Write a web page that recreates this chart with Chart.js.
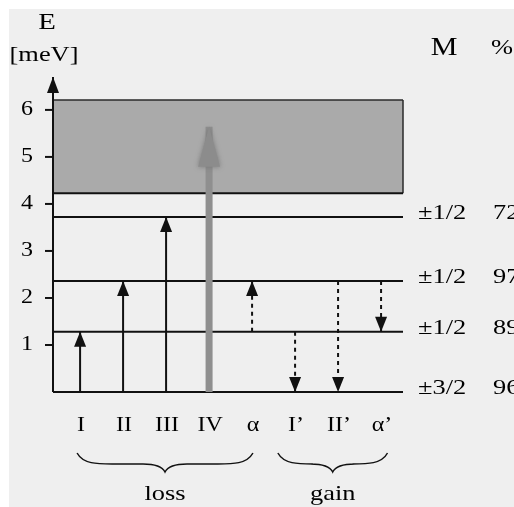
<!DOCTYPE html>
<html lang="en">
  <head>
    <meta charset="UTF-8" />
    <title>Energy levels</title>
    <script src="https://cdn.jsdelivr.net/npm/chart.js"></script>
    <style>
      * {
        margin: 0;
        padding: 0;
        box-sizing: border-box;
      }

      body {
        background-color: #ffffff;
      }

      .chart-container {
        width: 514px;
        height: 507px;
      }
    </style>
  </head>
  <body>
    <div class="chart-container">
      <canvas id="levelChart"></canvas>
    </div>

    <script>
      // transitions, one per category position (1..8)
      const categories = ["I", "II", "III", "IV", "α", "I’", "II’", "α’"];
      const transFrom = [0, 0, 0, 0, 1.28, 1.28, 2.36, 2.36];
      const transTo = [1.28, 2.36, 3.72, 5.64, 2.36, 0, 0, 1.28];
      const transKind = ["solid", "solid", "solid", "broad", "dashed", "dashed", "dashed", "dashed"];

      // levels
      const levelEnergy = [0, 1.28, 2.36, 3.72];
      const levelM = ["±3/2", "±1/2", "±1/2", "±1/2"];
      const levelPct = ["96", "89", "97", "72"];

      // continuum band
      const bandBottom = 4.23;
      const bandTop = 6.21;

      const yTicks = [1, 2, 3, 4, 5, 6];

      // braces under the categories
      const groupNames = ["loss", "gain"];
      const groupFrom = [0.93, 5.6];
      const groupTo = [5.02, 8.15];

      const xMin = 0.37;
      const xMax = 8.51;
      const yMax = 6.7;

      const FONT = "'Liberation Serif', 'Times New Roman', serif";

      function seg(x1, y1, x2, y2) {
        return [
          { x: x1, y: y1 },
          { x: x2, y: y2 },
        ];
      }

      function lineSet(data, extra) {
        return Object.assign(
          {
            data: data,
            showLine: true,
            pointRadius: 0,
            fill: false,
            clip: false,
            borderColor: "#111111",
            borderWidth: 2,
          },
          extra
        );
      }

      var datasets = [];

      // band: top line filled down to bottom line
      datasets.push(
        lineSet(seg(xMin, bandTop, xMax, bandTop), {
          fill: "+1",
          backgroundColor: "#aaaaaa",
          borderColor: "#2a2a2a",
          borderWidth: 1.5,
          order: 20,
        })
      );
      datasets.push(
        lineSet(seg(xMin, bandBottom, xMax, bandBottom), {
          borderWidth: 2,
          order: 19,
        })
      );
      datasets.push(
        lineSet(seg(xMax, bandBottom, xMax, bandTop), {
          borderColor: "#2a2a2a",
          borderWidth: 1.5,
          order: 19,
        })
      );

      levelEnergy.forEach(function (e) {
        datasets.push(lineSet(seg(xMin, e, xMax, e), { order: 10 }));
      });

      // energy axis with arrow
      datasets.push(
        lineSet(seg(xMin, 0, xMin, yMax), {
          arrow: { len: 16, width: 12, color: "#111111" },
          order: 9,
        })
      );

      categories.forEach(function (c, i) {
        var kind = transKind[i];
        var extra = { order: 2 };
        if (kind === "dashed") {
          extra.borderDash = [4, 4];
          extra.arrow = { len: 15, width: 12, color: "#111111" };
        } else if (kind === "broad") {
          extra.borderColor = "#8f8f8f";
          extra.borderWidth = 7;
          extra.order = 1;
          extra.arrow = { len: 40, width: 22, color: "#8c8c8c", soft: true };
        } else {
          extra.arrow = { len: 15, width: 12, color: "#111111" };
        }
        datasets.push(lineSet(seg(i + 1, transFrom[i], i + 1, transTo[i]), extra));
      });

      function stretchText(ctx, text, x, y, size, align) {
        ctx.save();
        ctx.font = size + "px " + FONT;
        ctx.textBaseline = "middle";
        ctx.textAlign = align || "center";
        ctx.translate(x, y);
        ctx.scale(1.2, 1);
        ctx.fillText(text, 0, 0);
        ctx.restore();
      }

      const backgroundPlugin = {
        id: "paper",
        beforeDraw(chart) {
          var ctx = chart.ctx;
          ctx.save();
          ctx.fillStyle = "#ffffff";
          ctx.fillRect(0, 0, chart.width, chart.height);
          ctx.fillStyle = "#efefef";
          ctx.fillRect(9, 9, chart.width - 9, chart.height - 9);
          ctx.restore();
        },
      };

      const arrowPlugin = {
        id: "arrows",
        afterDatasetsDraw(chart) {
          var ctx = chart.ctx;
          chart.data.datasets.forEach(function (ds, i) {
            if (!ds.arrow) return;
            var pts = chart.getDatasetMeta(i).data;
            var p0 = pts[0], p1 = pts[1];
            var dx = p1.x - p0.x, dy = p1.y - p0.y;
            var d = Math.sqrt(dx * dx + dy * dy);
            var ux = dx / d, uy = dy / d;
            var a = ds.arrow;
            ctx.save();
            ctx.fillStyle = a.color;
            if (a.soft) {
              ctx.shadowColor = "rgba(110,110,110,0.8)";
              ctx.shadowBlur = 5;
            }
            ctx.beginPath();
            ctx.moveTo(p1.x, p1.y);
            ctx.lineTo(p1.x - ux * a.len - uy * a.width / 2, p1.y - uy * a.len + ux * a.width / 2);
            ctx.lineTo(p1.x - ux * a.len + uy * a.width / 2, p1.y - uy * a.len - ux * a.width / 2);
            ctx.closePath();
            ctx.fill();
            ctx.restore();
          });
        },
      };

      const labelPlugin = {
        id: "labels",
        afterDraw(chart) {
          var ctx = chart.ctx;
          var xs = chart.scales.x;
          var ys = chart.scales.y;
          var axisX = xs.getPixelForValue(xMin);
          var rightX = xs.getPixelForValue(xMax);
          ctx.save();
          ctx.fillStyle = "#000000";
          ctx.strokeStyle = "#111111";

          // y ticks
          ctx.lineWidth = 2;
          yTicks.forEach(function (t) {
            var py = ys.getPixelForValue(t);
            ctx.beginPath();
            ctx.moveTo(axisX - 8, py);
            ctx.lineTo(axisX, py);
            ctx.stroke();
            stretchText(ctx, String(t), 27, py, 20);
          });

          // axis title
          stretchText(ctx, "E", 47, 23, 24);
          stretchText(ctx, "[meV]", 44, 55, 22);

          // right side labels
          stretchText(ctx, "M", 444, 48, 25);
          stretchText(ctx, "%", 491, 48, 22, "left");
          levelEnergy.forEach(function (e, i) {
            var py = ys.getPixelForValue(e) - 4;
            stretchText(ctx, levelM[i], rightX + 15, py, 22, "left");
            stretchText(ctx, levelPct[i], rightX + 90, py, 22, "left");
          });

          // category labels
          categories.forEach(function (c, i) {
            stretchText(ctx, c, xs.getPixelForValue(i + 1) + 1, 426, 20);
          });

          // braces
          ctx.lineWidth = 1.5;
          groupNames.forEach(function (name, i) {
            var x1 = xs.getPixelForValue(groupFrom[i]);
            var x2 = xs.getPixelForValue(groupTo[i]);
            var cx = (x1 + x2) / 2;
            var y0 = 453, ym = 464, yt = 472;
            ctx.beginPath();
            ctx.moveTo(x1, y0);
            ctx.bezierCurveTo(x1 + 6, ym, x1 + 20, ym, x1 + 35, ym);
            ctx.lineTo(cx - 22, ym);
            ctx.quadraticCurveTo(cx - 4, ym, cx, yt);
            ctx.quadraticCurveTo(cx + 4, ym, cx + 22, ym);
            ctx.lineTo(x2 - 35, ym);
            ctx.bezierCurveTo(x2 - 20, ym, x2 - 6, ym, x2, y0);
            ctx.stroke();
            stretchText(ctx, name, cx, 494, 22);
          });
          ctx.restore();
        },
      };

      var ctx = document.getElementById("levelChart").getContext("2d");
      var levelChart = new Chart(ctx, {
        type: "scatter",
        data: { datasets: datasets },
        options: {
          responsive: true,
          maintainAspectRatio: false,
          animation: false,
          events: [],
          layout: {
            padding: { left: 53, right: 111, top: 77, bottom: 115 },
          },
          scales: {
            x: { type: "linear", min: xMin, max: xMax, display: false },
            y: { type: "linear", min: 0, max: yMax, display: false },
          },
          plugins: {
            legend: { display: false },
            tooltip: { enabled: false },
          },
        },
        plugins: [backgroundPlugin, arrowPlugin, labelPlugin],
      });
    </script>
  </body>
</html>
